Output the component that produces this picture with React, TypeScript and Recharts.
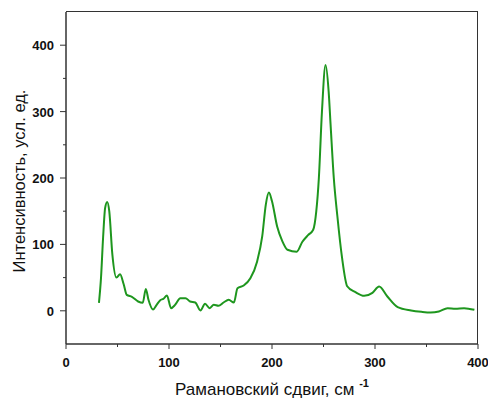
import { LineChart, Line, XAxis, YAxis } from "recharts";

// Raman shift, cm^-1
const shift = [
  32, 34, 36, 38, 40, 42, 45, 49, 52.5, 56, 59, 64, 70, 74.5, 77.5, 80, 84.5, 88, 91.5, 94.5, 98,
  102, 106, 111, 116, 120.5, 125.5, 130.5, 135, 139.5, 143.5, 148, 153, 158, 163, 166.5, 172.5,
  179, 185.5, 190.5, 194, 197, 200, 205, 210, 215, 224, 229.5, 235, 240, 243, 245.5, 248.5, 252,
  255, 257, 260, 263.5, 268, 273, 281, 289.5, 297.5, 304, 312, 322, 335, 345, 354, 362, 370.5,
  378, 386.5, 396.5,
];
// intensity, arb. units
const intensity = [
  12, 50, 110, 155, 164, 150, 85, 50, 55, 40, 24, 21, 14, 12, 33, 17, 2, 9, 16, 18, 23,
  4, 9, 19, 19, 14, 12.5, 0.5, 10.5, 4, 9, 7.5, 12.5, 16.5, 12.5, 34, 38,
  49, 74, 112, 160, 178, 165, 127, 105, 92, 89, 104, 114, 122, 150, 200, 300, 370,
  330, 277, 200, 142, 80, 37, 28, 22.5, 27, 36.5, 21.5, 5.5, 0.5, -1.5, -2.5, -1, 4,
  3, 4, 1.5,
];

const xTicks = [0, 50, 100, 150, 200, 250, 300, 350, 400];
const yTicks = [0, 50, 100, 150, 200, 250, 300, 350, 400];
const xDomain = [0, 400];
const yDomain = [-50, 450];

const data = shift.map((s, i) => ({ shift: s, intensity: intensity[i] }));

const W = 488;
const H = 399;
const margin = { top: 12, right: 10, left: 0, bottom: 0 };
const yAxisWidth = 66;
const xAxisHeight = 55;
const font = "'Liberation Sans', Arial, sans-serif";
const axisColor = "#333";

function XTick({ x, y, payload }: any) {
  const major = payload.value % 100 === 0;
  return (
    <g>
      <line x1={x} x2={x} y1={y} y2={y + (major ? 5 : 3)} stroke={axisColor} strokeWidth={1} />
      {major && (
        <text x={x} y={y + 23} textAnchor="middle" fontFamily={font} fontSize={13} fontWeight="bold" fill="#111">
          {payload.value}
        </text>
      )}
    </g>
  );
}

function YTick({ x, y, payload }: any) {
  const major = payload.value % 100 === 0;
  return (
    <g>
      <line x1={x} x2={x - (major ? 6 : 3)} y1={y} y2={y} stroke={axisColor} strokeWidth={1} />
      {major && (
        <text x={x - 12} y={y + 5} textAnchor="end" fontFamily={font} fontSize={13} fontWeight="bold" fill="#111">
          {payload.value}
        </text>
      )}
    </g>
  );
}

function XLabel({ viewBox }: any) {
  const cx = viewBox.x + viewBox.width / 2;
  return (
    <text x={cx} y={viewBox.y + 51} textAnchor="middle" fontFamily={font} fontSize={17} fill="#111">
      <tspan>Рамановский сдвиг, см </tspan>
      <tspan dy={-8} fontSize={11} fontWeight="bold">-1</tspan>
    </text>
  );
}

function YLabel({ viewBox }: any) {
  const cx = 21;
  const cy = viewBox.y + viewBox.height / 2 + 3;
  return (
    <text
      x={cx}
      y={cy}
      transform={`rotate(-90, ${cx}, ${cy})`}
      textAnchor="middle"
      dominantBaseline="middle"
      fontFamily={font}
      fontSize={16.5}
      fill="#111"
    >
      Интенсивность, усл. ед.
    </text>
  );
}

// plot box derived from the same layout numbers the chart is given
const boxLeft = margin.left + yAxisWidth;
const boxTop = margin.top;
const boxWidth = W - margin.right - boxLeft;
const boxHeight = H - margin.bottom - xAxisHeight - boxTop;

export default function App() {
  return (
    <div style={{ position: "absolute", left: 0, top: 0, width: W, height: H, background: "#fff" }}>
      <LineChart width={W} height={H} data={data} margin={margin}>
        <XAxis
          dataKey="shift"
          type="number"
          domain={xDomain}
          ticks={xTicks}
          interval={0}
          tickLine={false}
          tickSize={0}
          tickMargin={0}
          height={xAxisHeight}
          stroke={axisColor}
          strokeWidth={1.5}
          tick={<XTick />}
          label={<XLabel />}
        />
        <YAxis
          type="number"
          domain={yDomain}
          ticks={yTicks}
          interval={0}
          tickLine={false}
          tickSize={0}
          tickMargin={0}
          width={yAxisWidth}
          stroke={axisColor}
          strokeWidth={1.5}
          tick={<YTick />}
          label={<YLabel />}
        />
        <Line
          type="monotone"
          dataKey="intensity"
          stroke="#1e961e"
          strokeWidth={2}
          dot={false}
          isAnimationActive={false}
        />
      </LineChart>
      <div
        style={{
          position: "absolute",
          left: boxLeft,
          top: boxTop - 1,
          width: boxWidth,
          height: boxHeight + 1,
          borderTop: `1.5px solid ${axisColor}`,
          borderRight: `1.5px solid ${axisColor}`,
          boxSizing: "border-box",
          pointerEvents: "none",
        }}
      />
    </div>
  );
}
